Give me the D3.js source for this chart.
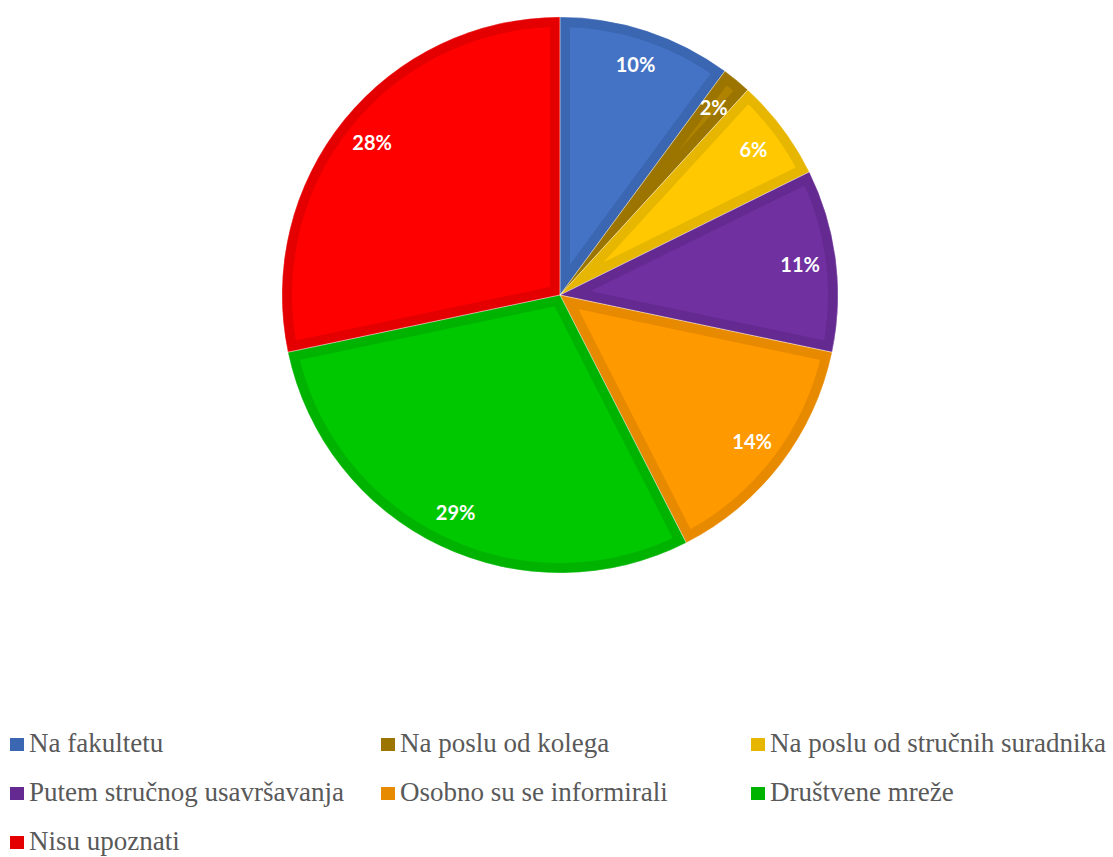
<!DOCTYPE html>
<html>
<head>
<meta charset="utf-8">
<script src="https://cdn.jsdelivr.net/npm/d3@7"></script>
<style>
  body { margin: 0; background: #fff; }
  svg { display: block; }
</style>
</head>
<body>
<div class="chart"></div>
<script>
var width = 1113;
var height = 857;

// data (shares of respondents)
var categories = ["Na fakultetu", "Na poslu od kolega", "Na poslu od stručnih suradnika",
	"Putem stručnog usavršavanja", "Osobno su se informirali", "Društvene mreže", "Nisu upoznati"];
var shares = [0.101, 0.017, 0.059, 0.106, 0.142, 0.292, 0.283];

var fillColors = ["#4472C4", "#AF8300", "#FFC800", "#7030A0", "#FF9900", "#00C800", "#FF0000"];
var borderColors = ["#3A66B2", "#9C7500", "#E6B600", "#652A91", "#E88A00", "#00B300", "#E40000"];

var cx = 560, cy = 295, radius = 278;
var labelRadius = 242;
var border = 10;

var svg = d3.select('.chart').append('svg')
	.attr('width', width)
	.attr('height', height);

var pie = d3.pie().sort(null).value(d => d);
var arcs = pie(shares);

var arc = d3.arc().innerRadius(0).outerRadius(radius);
var labelArc = d3.arc().innerRadius(labelRadius).outerRadius(labelRadius);
var fmt = d3.format(".0%");

var defs = svg.append('defs');
defs.selectAll('clipPath').data(arcs).enter().append('clipPath')
	.attr('id', (d, i) => 'clip' + i)
	.append('path')
	.attr('d', arc);

var g = svg.append('g').attr('transform', 'translate(' + cx + ',' + cy + ')');

// slices, each with a darker border drawn inside it
var slice = g.selectAll('g.slice').data(arcs).enter().append('g').attr('class', 'slice');
slice.append('path')
	.attr('d', arc)
	.attr('fill', (d, i) => fillColors[i])
	.attr('stroke', (d, i) => borderColors[i])
	.attr('stroke-width', border * 2)
	.attr('stroke-linejoin', 'miter')
	.attr('clip-path', (d, i) => 'url(#clip' + i + ')');

// thin light seam between slices
g.selectAll('path.seam').data(arcs).enter().append('path')
	.attr('class', 'seam')
	.attr('d', arc)
	.attr('fill', 'none')
	.attr('stroke', 'rgba(255,255,255,0.3)')
	.attr('stroke-width', 1);

// percentage labels
g.selectAll('text.pct').data(arcs).enter().append('text')
	.attr('class', 'pct')
	.attr('transform', d => 'translate(' + labelArc.centroid(d) + ')')
	.attr('text-anchor', 'middle')
	.attr('dy', '0.35em')
	.attr('fill', '#fff')
	.attr('font-family', 'Lato, "Open Sans", sans-serif')
	.attr('font-weight', 700)
	.attr('font-size', 20)
	.text(d => fmt(d.data));

// legend, three columns
var colX = [10, 381, 751];
var rowY = [752, 801, 850];
var legend = svg.selectAll('g.legend').data(categories).enter().append('g')
	.attr('class', 'legend')
	.attr('transform', (d, i) => 'translate(' + colX[i % 3] + ',' + rowY[Math.floor(i / 3)] + ')');

legend.append('rect')
	.attr('x', 0).attr('y', -14)
	.attr('width', 14).attr('height', 13)
	.attr('fill', (d, i) => borderColors[i]);

legend.append('text')
	.attr('x', 19)
	.attr('y', 0)
	.attr('fill', '#595959')
	.attr('font-family', '"Liberation Serif", "Times New Roman", serif')
	.attr('font-size', 27)
	.text(d => d);
</script>
</body>
</html>
